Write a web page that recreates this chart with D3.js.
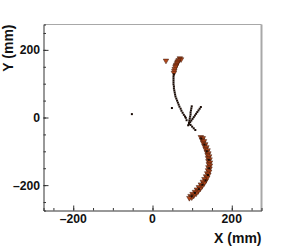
<!DOCTYPE html>
<html><head><meta charset="utf-8">
<script src="https://cdn.jsdelivr.net/npm/d3@7"></script>
<style>html,body{margin:0;padding:0;background:#fff;}svg{display:block;}</style>
</head><body>
<script>
// ---- data ----
const xMajorTicks = [-200, 0, 200];
const yMajorTicks = [-200, 0, 200];
const minorTicks = [-250, -200, -150, -100, -50, 0, 50, 100, 150, 200, 250];
const xTickLabels = ["\u2013200", "0", "200"];
const yTickLabels = ["\u2013200", "0", "200"];
const xTitle = "X (mm)";
const yTitle = "Y (mm)";

// orange triangle hits (x, y in mm)
const triX = [34, 69, 72, 66, 64, 63, 62, 60, 59, 58, 56, 55, 54,
  122,127,125,130,128,133,131,136,134,139,137,141,139,143,140,144,141,145,142,145,141,144,140,143,138,141,135,138,131,134,127,130,122,125,117,120,112,115,107,110,101,104,96,99,93];
const triY = [168, 175, 172, 170, 166, 163, 160, 156, 153, 150, 144, 138, 132,
  -58,-61,-66,-70,-75,-79,-84,-88,-93,-97,-102,-106,-111,-115,-120,-124,-129,-133,-138,-142,-147,-151,-156,-160,-165,-169,-174,-178,-182,-187,-190,-195,-198,-203,-206,-211,-213,-218,-220,-225,-226,-231,-232,-236,-238];

// black dot hits (x, y in mm)
const dotX = [-52, 49,
  54,53,53,53,53,53,54,54,55,56,57,58,60,62,64,66,68,71,73,76,79,82,84,86,
  99,98,97,96,96,95,94,93,92,
  122,119,116,113,110,107,104,101,98,95,92,90,
  96,100,104,108,
  123,131,137,142,143,140,134,126,117,107,99];
const dotY = [10, 28,
  128,122,116,110,104,98,92,86,80,74,68,62,56,50,44,38,32,26,20,14,8,3,-1,-8,
  33,27,21,15,9,3,-3,-9,-15,
  31,26,21,16,11,6,1,-4,-9,-14,-19,-23,
  -22,-27,-32,-37,
  -62,-80,-100,-125,-150,-170,-186,-199,-212,-223,-233];

// ---- layout ----
const W = 291, H = 248;
const L = 43.5, R = 261.5, T = 24.5, B = 210.5;
const svg = d3.select("body").append("svg").attr("width", W).attr("height", H);

const x = d3.scaleLinear().domain([-275, 275]).range([L, R]);
const y = d3.scaleLinear().domain([-275, 275]).range([B, T]);

// frame (top/right grey)
svg.append("line").attr("x1", L).attr("x2", R).attr("y1", T).attr("y2", T)
  .attr("stroke", "#a8a8a8").attr("stroke-width", 1.2);
svg.append("line").attr("x1", R).attr("x2", R).attr("y1", T).attr("y2", B)
  .attr("stroke", "#a8a8a8").attr("stroke-width", 2);

const font = "'Liberation Sans', Arial, Helvetica, sans-serif";

// bottom axis
const gx = svg.append("g").attr("transform", `translate(0,${B})`);
gx.call(d3.axisBottom(x).tickValues(minorTicks).tickSize(-2.5).tickFormat(""));
gx.call(g => g.append("g").call(d3.axisBottom(x).tickValues(xMajorTicks).tickSize(-5).tickFormat(""))
  .select(".domain").remove());
gx.selectAll("path,line").attr("stroke", "#333").attr("stroke-width", 1);
gx.selectAll(".domain").attr("stroke", "#333");
xMajorTicks.forEach((v, i) => {
  svg.append("text").attr("x", x(v)).attr("y", 223).attr("text-anchor", "middle")
    .attr("font-family", font).attr("font-weight", "bold").attr("font-size", 12.2)
    .attr("fill", "#111").text(xTickLabels[i]);
});

// left axis
const gy = svg.append("g").attr("transform", `translate(${L},0)`);
gy.call(d3.axisLeft(y).tickValues(minorTicks).tickSize(-2.5).tickFormat(""));
gy.call(g => g.append("g").call(d3.axisLeft(y).tickValues(yMajorTicks).tickSize(-5).tickFormat(""))
  .select(".domain").remove());
gy.selectAll("path,line").attr("stroke", "#333").attr("stroke-width", 1);
yMajorTicks.forEach((v, i) => {
  svg.append("text").attr("x", 40).attr("y", y(v)).attr("dy", "0.36em").attr("text-anchor", "end")
    .attr("font-family", font).attr("font-weight", "bold").attr("font-size", 12.2)
    .attr("fill", "#111").text(yTickLabels[i]);
});

// titles
svg.append("text").attr("x", R).attr("y", 243).attr("text-anchor", "end")
  .attr("font-family", font).attr("font-weight", "bold").attr("font-size", 14)
  .attr("fill", "#111").text(xTitle);
svg.append("text").attr("transform", `translate(12.5,${T}) rotate(-90)`).attr("text-anchor", "end")
  .attr("font-family", font).attr("font-weight", "bold").attr("font-size", 14)
  .attr("fill", "#111").text(yTitle);

// marks
const tri = d3.symbol().type(d3.symbolTriangle).size(13);
const triData = triX.map((v, i) => [v, triY[i]]);
const dotData = dotX.map((v, i) => [v, dotY[i]]);

svg.append("g").selectAll("path").data(triData).join("path")
  .attr("d", tri)
  .attr("transform", d => `translate(${x(d[0])},${y(d[1])}) rotate(180)`)
  .attr("fill", "#b4481b").attr("stroke", "#3a1608").attr("stroke-width", 0.5);

svg.append("g").selectAll("rect").data(dotData).join("rect")
  .attr("x", d => x(d[0]) - 1).attr("y", d => y(d[1]) - 1)
  .attr("width", 2).attr("height", 2)
  .attr("fill", "#1a0c06");
</script>
</body></html>
